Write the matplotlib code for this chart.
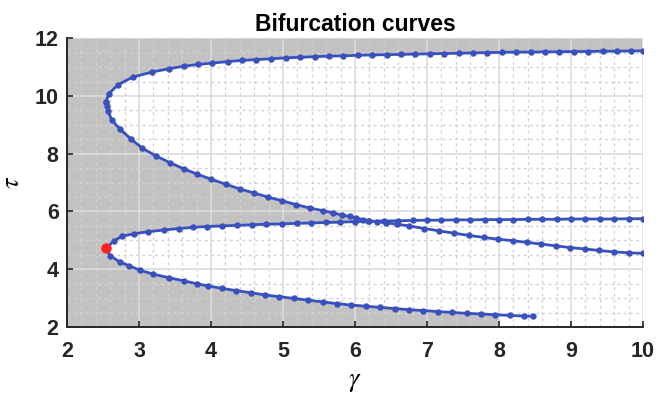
import matplotlib
matplotlib.use("Agg")
import matplotlib.pyplot as plt
from matplotlib.ticker import MultipleLocator

# ---- data ----
# upper C-shaped curve: upper branch (from tip to the right)
a_up_x = [2.54, 2.58, 2.71, 2.91, 3.18, 3.41, 3.62, 3.82, 4.02, 4.23, 4.43, 4.63, 4.84,
          5.04, 5.24, 5.44, 5.64, 5.84, 6.04, 6.24, 6.44, 6.64, 6.84, 7.04, 7.24, 7.44,
          7.64, 7.84, 8.04, 8.24, 8.44, 8.64, 8.84, 9.04, 9.24, 9.44, 9.64, 9.84, 10.0]
a_up_y = [9.79, 10.08, 10.39, 10.65, 10.83, 10.94, 11.03, 11.09, 11.14, 11.19, 11.23, 11.26, 11.29,
          11.32, 11.34, 11.36, 11.38, 11.39, 11.41, 11.42, 11.43, 11.44, 11.45, 11.46, 11.47, 11.48,
          11.49, 11.50, 11.51, 11.52, 11.52, 11.53, 11.53, 11.54, 11.54, 11.55, 11.55, 11.56, 11.56]
# upper C-shaped curve: lower branch (from tip to the right)
a_lo_x = [2.54, 2.55, 2.57, 2.62, 2.74, 2.885, 3.04, 3.24, 3.43, 3.62, 3.80, 4.00, 4.21, 4.40,
          4.60, 4.79, 4.99, 5.18, 5.375, 5.55, 5.70, 5.82, 5.93, 6.01, 6.11, 6.18, 6.30, 6.43,
          6.58, 6.75, 6.96, 7.17, 7.37, 7.59, 7.79, 7.99, 8.19, 8.39, 8.59, 8.79, 8.99, 9.20,
          9.39, 9.60, 9.80, 10.0]
a_lo_y = [9.79, 9.64, 9.48, 9.17, 8.84, 8.52, 8.20, 7.92, 7.69, 7.48, 7.30, 7.12, 6.94, 6.78,
          6.64, 6.50, 6.37, 6.24, 6.12, 6.03, 5.95, 5.88, 5.83, 5.78, 5.72, 5.68, 5.65, 5.61,
          5.56, 5.50, 5.41, 5.33, 5.25, 5.17, 5.10, 5.04, 4.99, 4.93, 4.87, 4.81, 4.75, 4.70,
          4.65, 4.60, 4.57, 4.55]
# lower C-shaped curve: upper branch
b_up_x = [2.54, 2.65, 2.76, 2.93, 3.13, 3.35, 3.55, 3.75, 3.94, 4.15, 4.36, 4.57, 4.77, 4.98,
          5.19, 5.39, 5.60, 5.79, 6.00, 6.20, 6.40, 6.60, 6.80, 7.00, 7.20, 7.40, 7.60, 7.80,
          8.00, 8.20, 8.40, 8.60, 8.80, 9.00, 9.20, 9.40, 9.60, 9.80, 10.0]
b_up_y = [4.72, 4.98, 5.14, 5.23, 5.30, 5.36, 5.41, 5.45, 5.48, 5.50, 5.52, 5.54, 5.56, 5.57,
          5.59, 5.60, 5.62, 5.63, 5.65, 5.66, 5.67, 5.68, 5.69, 5.70, 5.70, 5.71, 5.71, 5.72,
          5.72, 5.72, 5.73, 5.73, 5.73, 5.74, 5.74, 5.74, 5.74, 5.75, 5.75]
# lower C-shaped curve: lower branch
b_lo_x = [2.54, 2.60, 2.73, 2.865, 3.01, 3.20, 3.41, 3.62, 3.80, 3.96, 4.15, 4.35, 4.55, 4.75,
          4.95, 5.15, 5.35, 5.55, 5.75, 5.95, 6.15, 6.35, 6.55, 6.75, 6.95, 7.15, 7.35, 7.55,
          7.75, 7.95, 8.15, 8.35, 8.47]
b_lo_y = [4.72, 4.47, 4.26, 4.12, 3.97, 3.83, 3.71, 3.60, 3.50, 3.42, 3.34, 3.26, 3.19, 3.11,
          3.05, 2.99, 2.93, 2.87, 2.81, 2.76, 2.72, 2.68, 2.64, 2.60, 2.57, 2.535, 2.505, 2.475,
          2.45, 2.425, 2.40, 2.38, 2.37]
# special point (red)
special_x = [2.54]
special_y = [4.72]
# shading cut-off (gray region ends at this gamma below the lower curve)
shade_cut_x = 8.0

x_ticks = [2, 3, 4, 5, 6, 7, 8, 9, 10]
y_ticks = [2, 4, 6, 8, 10, 12]

GRAY = "#c2c2c2"
BLUE = "#3a50bd"

plt.rcParams["font.family"] = ["Liberation Sans", "DejaVu Sans"]
plt.rcParams["mathtext.fontset"] = "stix"

fig = plt.figure(figsize=(6.68, 3.94), dpi=100)
ax = fig.add_axes([0.1003, 0.170, 0.8623, 0.733])
ax.set_facecolor(GRAY)

# white interiors of both curves
ax.fill(a_up_x[::-1] + a_lo_x, a_up_y[::-1] + a_lo_y, color="white", lw=0, zorder=1)
ax.fill(b_up_x[::-1] + b_lo_x, b_up_y[::-1] + b_lo_y, color="white", lw=0, zorder=1)
ax.fill_between([shade_cut_x, x_ticks[-1]], y_ticks[0], 6, color="white", lw=0, zorder=1)

for xs, ys in [(a_up_x, a_up_y), (a_lo_x, a_lo_y), (b_up_x, b_up_y), (b_lo_x, b_lo_y)]:
    ax.plot(xs, ys, "-", color=BLUE, lw=2.0, marker="o", ms=3.6, zorder=4)
ax.plot(special_x, special_y, "o", color="#ff2020", ms=6.5, zorder=5)

ax.set_xlim(x_ticks[0], x_ticks[-1])
ax.set_ylim(y_ticks[0], y_ticks[-1])
ax.set_xticks(x_ticks)
ax.set_yticks(y_ticks)
ax.xaxis.set_minor_locator(MultipleLocator(0.2))
ax.yaxis.set_minor_locator(MultipleLocator(0.5))
ax.set_axisbelow(False)
ax.grid(True, which="major", color="#dcdcdc", lw=1.2, zorder=2)
ax.grid(True, which="minor", color="#d2d2d2", lw=1.0, ls=(0, (2, 2.5)), zorder=2)

for s in ["top", "right"]:
    ax.spines[s].set_visible(False)
for s in ["left", "bottom"]:
    ax.spines[s].set_color("#262626")
    ax.spines[s].set_linewidth(1.4)
    ax.spines[s].set_zorder(6)
ax.tick_params(which="major", direction="in", length=4, width=1.2, color="#262626",
               labelsize=15.5, pad=6)
ax.tick_params(axis="x", which="major", pad=10)
ax.tick_params(which="minor", length=0)
for lab in ax.get_xticklabels() + ax.get_yticklabels():
    lab.set_fontweight("bold")
    lab.set_color("#262626")

ax.set_title("Bifurcation curves", fontsize=16.5, fontweight="bold", pad=5)
ax.set_xlabel(r"$\gamma$", fontsize=19, labelpad=6)
ax.set_ylabel(r"$\tau$", fontsize=19, labelpad=8)

fig.savefig("out.png", dpi=100)
